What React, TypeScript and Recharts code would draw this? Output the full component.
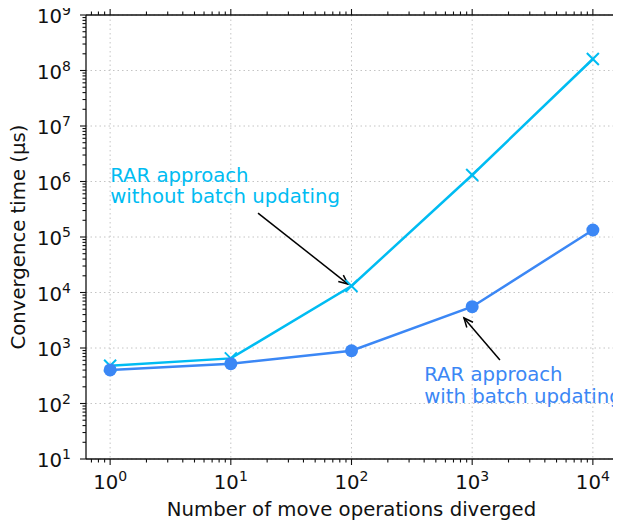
import { LineChart, Line, XAxis, YAxis, CartesianGrid, ReferenceLine, ReferenceDot } from 'recharts';

const moveOps = [1, 10, 100, 1000, 10000];
const withoutBatch = [480, 650, 13100, 1310000, 161000000];
const withBatch = [402, 521, 893, 5550, 133700];

const xMajor = [1, 10, 100, 1000, 10000];
const yMajor = [10, 100, 1000, 10000, 100000, 1000000, 10000000, 100000000, 1000000000];
const minorSteps = [2, 3, 4, 5, 6, 7, 8, 9];
const xDomain = [0.631, 15849];
const yDomain = [10, 1000000000];

const CYAN = '#00bcf2';
const BLUE = '#3b87f5';
const INK = '#111';
const FONT = 'DejaVu Sans';
const FS = 19.7;

const data = moveOps.map((n, i) => ({ n, without: withoutBatch[i], with: withBatch[i] }));

function withMinors(majors: number[], lo: number, hi: number) {
  const out: number[] = [];
  majors.forEach((m) => {
    out.push(m);
    minorSteps.forEach((s) => out.push(m * s));
    minorSteps.forEach((s) => out.push((m / 10) * s));
  });
  return Array.from(new Set(out)).filter((v) => v >= lo && v <= hi).sort((a, b) => a - b);
}

const xTicks = withMinors(xMajor, xDomain[0], xDomain[1]);
const yTicks = withMinors(yMajor, yDomain[0], yDomain[1]);

const isMajor = (v: number) => Math.abs(Math.log10(v) - Math.round(Math.log10(v))) < 1e-9;
const expOf = (v: number) => String(Math.round(Math.log10(v)));

function BottomTick({ x, y, payload }: any) {
  const v = payload.value;
  const major = isMajor(v);
  return (
    <g>
      <line x1={x} x2={x} y1={y} y2={y + (major ? 6 : 3.5)} stroke={INK} strokeWidth={1.1} />
      {major && (
        <text x={x} y={y + 30} textAnchor="middle" fontSize={FS} fontFamily={FONT} fill={INK}>
          10<tspan fontSize={14} dy={-8}>{expOf(v)}</tspan>
        </text>
      )}
    </g>
  );
}

function TopTick({ x, y, payload }: any) {
  const major = isMajor(payload.value);
  return <line x1={x} x2={x} y1={y} y2={y - (major ? 6 : 3.5)} stroke={INK} strokeWidth={1.1} />;
}

function LeftTick({ x, y, payload }: any) {
  const v = payload.value;
  const major = isMajor(v);
  return (
    <g>
      <line x1={x} x2={x - (major ? 6 : 3.5)} y1={y} y2={y} stroke={INK} strokeWidth={1.1} />
      {major && (
        <text x={x - 15} y={y + 8} textAnchor="end" fontSize={FS} fontFamily={FONT} fill={INK}>
          10<tspan fontSize={14} dy={-8}>{expOf(v)}</tspan>
        </text>
      )}
    </g>
  );
}

function RightTick({ x, y, payload }: any) {
  const major = isMajor(payload.value);
  return <line x1={x} x2={x + (major ? 6 : 3.5)} y1={y} y2={y} stroke={INK} strokeWidth={1.1} />;
}

function XMark({ cx, cy }: any) {
  const h = 6;
  return (
    <g>
      <line x1={cx - h} y1={cy - h} x2={cx + h} y2={cy + h} stroke={CYAN} strokeWidth={2} />
      <line x1={cx - h} y1={cy + h} x2={cx + h} y2={cy - h} stroke={CYAN} strokeWidth={2} />
    </g>
  );
}

function Arrow({ x1, y1, x2, y2 }: any) {
  const ang = Math.atan2(y2 - y1, x2 - x1);
  const len = 10;
  const spread = 0.42;
  const a1 = ang + Math.PI - spread;
  const a2 = ang + Math.PI + spread;
  return (
    <g>
      <line x1={x1} y1={y1} x2={x2} y2={y2} stroke="#000" strokeWidth={1.5} />
      <polyline
        points={`${x2 + len * Math.cos(a1)},${y2 + len * Math.sin(a1)} ${x2},${y2} ${x2 + len * Math.cos(a2)},${y2 + len * Math.sin(a2)}`}
        fill="none"
        stroke="#000"
        strokeWidth={1.5}
      />
    </g>
  );
}

function Note(lines: string[], color: string) {
  return ({ cx, cy }: any) => (
    <text x={cx} y={cy} fontSize={FS} fontFamily={FONT} fill={color}>
      {lines.map((l, i) => (
        <tspan key={i} x={cx} dy={i === 0 ? 0 : 21.5}>
          {l}
        </tspan>
      ))}
    </text>
  );
}

export default function App() {
  const axisLine = { stroke: INK, strokeWidth: 1.3 };
  return (
    <div style={{ width: 613, height: 517 }}>
      <LineChart width={613} height={517} data={data} margin={{ top: 0, right: 0, bottom: 0, left: 0 }} style={{ overflow: 'visible' }}>
        <CartesianGrid
          stroke="#c4c4c4"
          strokeDasharray="1.5 3"
          verticalValues={xMajor}
          horizontalValues={yMajor}
        />
        <XAxis
          dataKey="n"
          type="number"
          scale="log"
          domain={xDomain}
          allowDataOverflow
          ticks={xTicks}
          interval={0}
          tickSize={0}
          tickMargin={0}
          tickLine={false}
          axisLine={axisLine}
          tick={<BottomTick />}
          height={66}
          label={{ value: 'Number of move operations diverged', position: 'insideBottom', offset: 9, fill: INK, fontSize: FS, fontFamily: FONT }}
        />
        <XAxis
          xAxisId="top"
          orientation="top"
          dataKey="n"
          type="number"
          scale="log"
          domain={xDomain}
          allowDataOverflow
          ticks={xTicks}
          interval={0}
          tickSize={0}
          tickMargin={0}
          tickLine={false}
          axisLine={axisLine}
          tick={<TopTick />}
          height={7}
        />
        <YAxis
          type="number"
          scale="log"
          domain={yDomain}
          allowDataOverflow
          ticks={yTicks}
          interval={0}
          tickSize={0}
          tickMargin={0}
          tickLine={false}
          axisLine={axisLine}
          tick={<LeftTick />}
          width={78}
          label={{ value: 'Convergence time (μs)', angle: -90, position: 'insideLeft', offset: 10, fill: INK, fontSize: FS, fontFamily: FONT, style: { textAnchor: 'middle' } }}
        />
        <YAxis
          yAxisId="right"
          orientation="right"
          type="number"
          scale="log"
          domain={yDomain}
          allowDataOverflow
          ticks={yTicks}
          interval={0}
          tickSize={0}
          tickMargin={0}
          tickLine={false}
          axisLine={axisLine}
          tick={<RightTick />}
          width={4}
        />
        <Line
          dataKey="without"
          stroke={CYAN}
          strokeWidth={2.5}
          isAnimationActive={false}
          dot={(p: any) => <XMark key={`x${p.index}`} cx={p.cx} cy={p.cy} />}
          activeDot={false}
        />
        <Line
          dataKey="with"
          stroke={BLUE}
          strokeWidth={2.5}
          isAnimationActive={false}
          dot={{ r: 6.5, fill: BLUE, stroke: BLUE, strokeWidth: 0 }}
          activeDot={false}
        />
        <ReferenceLine segment={[{ x: 16.8, y: 270000 }, { x: 93.5, y: 14200 }]} shape={Arrow} ifOverflow="visible" />
        <ReferenceLine segment={[{ x: 1698, y: 608 }, { x: 855, y: 3475 }]} shape={Arrow} ifOverflow="visible" />
        <ReferenceDot x={1} y={1000000} r={0} ifOverflow="visible" shape={Note(['RAR approach', 'without batch updating'], CYAN)} />
        <ReferenceDot x={400} y={250} r={0} ifOverflow="visible" shape={Note(['RAR approach', 'with batch updating'], BLUE)} />
      </LineChart>
    </div>
  );
}
